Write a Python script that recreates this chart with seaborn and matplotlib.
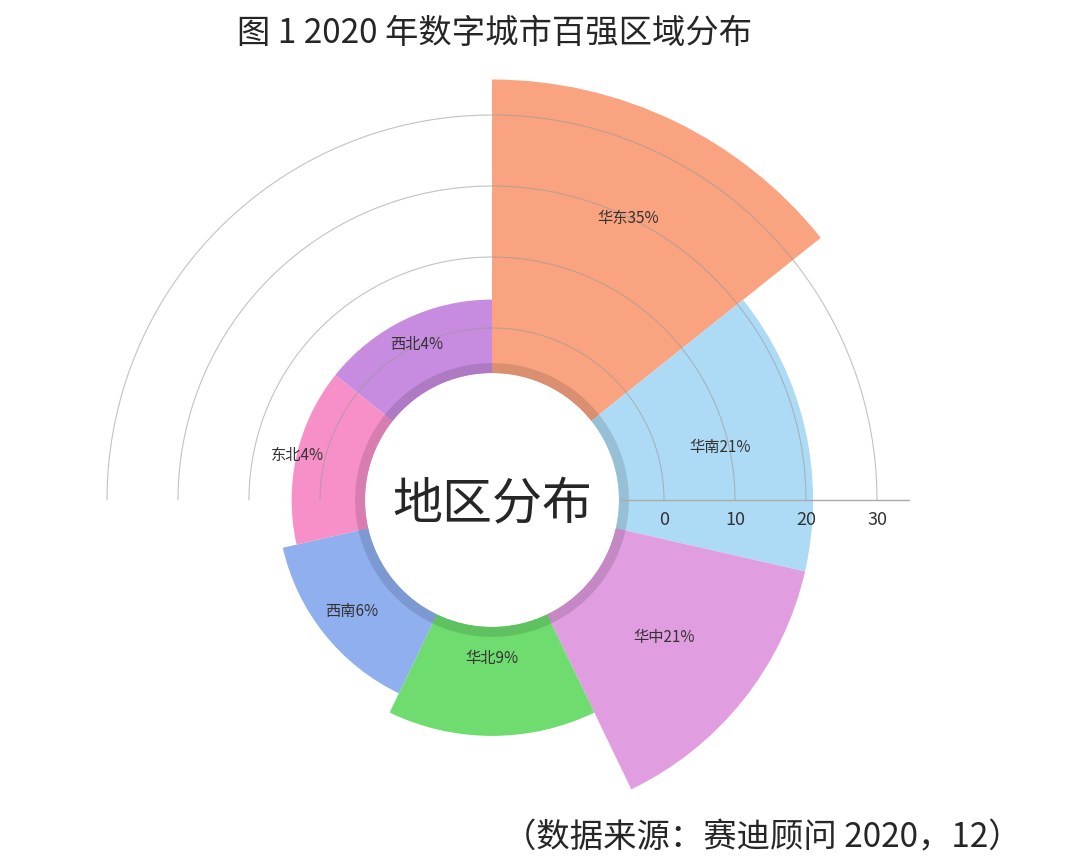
import numpy as np
import seaborn as sns
from matplotlib import pyplot as plt

regions = ['华东', '华南', '华中', '华北', '西南', '东北', '西北']
shares = [35, 21, 21, 9, 6, 4, 4]
colors = ['#F9A380', '#ADDBF5', '#E09DE0', '#6EDC6E', '#8FAFEE', '#F78FC8', '#C78BE0']
ticks = [0, 10, 20, 30]

sns.set_theme(style='white')
plt.rcParams['font.family'] = ['Noto Sans CJK SC', 'DejaVu Sans']

fig = plt.figure(figsize=(10.8, 8.67), dpi=100)
# polar axes: centre at (492, 500) px, 7.1 px per unit, zero ring at 172 px
px = 7.1
rmin, rmax = -172 / px, 45
half = (rmax - rmin) * px
ax = fig.add_axes([(492 - half) / 1080, (867 - 500 - half) / 867, 2 * half / 1080, 2 * half / 867],
                  projection='polar')
ax.set_theta_zero_location('N')
ax.set_theta_direction(-1)
ax.set_ylim(rmin, rmax)
ax.axis('off')

n = len(regions)
width = 2 * np.pi / n
theta = np.arange(n) * width + width / 2
inner = 127 / px + rmin
ax.bar(theta, np.array(shares) - inner, width=width, bottom=inner, color=colors,
       edgecolor='none', zorder=1)
# darker band around the hole
ax.bar(theta, 1.4, width=width, bottom=inner, color=colors, edgecolor='none', zorder=2)
ax.bar(theta, 1.4, width=width, bottom=inner, color='black', alpha=0.12, edgecolor='none', zorder=3)

# grid arcs on upper half
arc = np.linspace(-np.pi / 2, np.pi / 2, 300)
for t in ticks:
    ax.plot(arc, np.full_like(arc, t), color='#9a9a9a', lw=0.8, alpha=0.6, zorder=4)

# radial axis to the right
ax.plot([np.pi / 2, np.pi / 2], [inner + 0.3, 34.5], color='#aaaaaa', lw=1, zorder=5)
for t in ticks:
    ax.text(np.pi / 2, t, '\n' + str(t), fontsize=13, color='#333333',
            ha='center', va='top', linespacing=0.5, zorder=6)

lab_r = [313, 234, 220, 158, 179, 200, 173]
for th, name, s, rp in zip(theta, regions, shares, lab_r):
    ax.text(th, rp / px + rmin, f'{name}{s}%', fontsize=11, color='#333333',
            ha='center', va='center', zorder=6)

fig.text(492 / 1080, 1 - 505 / 867, '地区分布', fontsize=36, ha='center', va='center')
fig.text(495 / 1080, 1 - 33 / 867, '图 1 2020 年数字城市百强区域分布', fontsize=24,
         ha='center', va='center')
fig.text(762 / 1080, 1 - 838 / 867, '（数据来源：赛迪顾问 2020，12）', fontsize=24,
         ha='center', va='center')

plt.savefig('out.png', dpi=100)
